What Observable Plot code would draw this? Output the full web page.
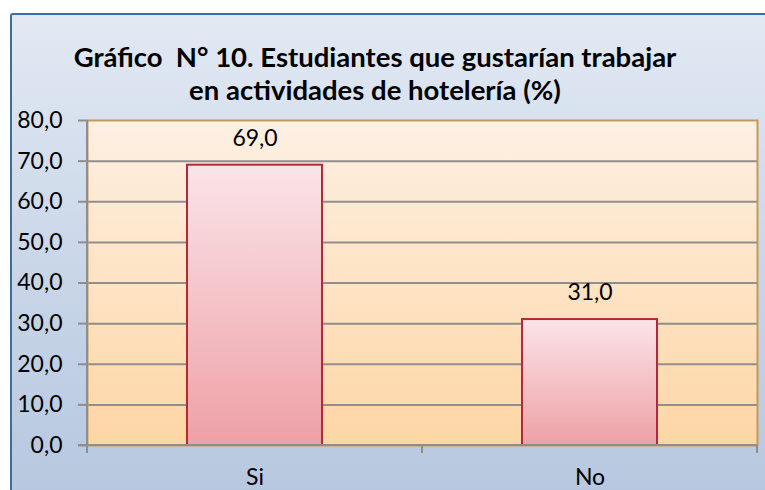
<!DOCTYPE html>
<html>
<head>
<meta charset="utf-8">
<script src="https://cdn.jsdelivr.net/npm/d3@7"></script>
<script src="https://cdn.jsdelivr.net/npm/@observablehq/plot@0.6"></script>
<style>
  html, body { margin: 0; padding: 0; background: #ffffff; }
  #wrap { position: relative; width: 765px; height: 490px; overflow: hidden; }
  #panel {
    position: absolute; left: 10px; top: 13px; width: 800px; height: 520px;
    border: 2px solid #3e6f98; border-radius: 3px;
    background: linear-gradient(to bottom, #e2e9f3 0%, #c9d6e8 50%, #b3c5de 100%);
    box-sizing: border-box;
  }
  #title {
    position: absolute; left: 0; top: 40px; width: 750px; text-align: center;
    font-family: Lato, "Open Sans", sans-serif; font-weight: bold; font-size: 27.5px;
    line-height: 33px; color: #000; white-space: nowrap;
  }
  #chart { position: absolute; left: 0; top: 0; }
  #defs { position: absolute; width: 0; height: 0; }
</style>
</head>
<body>
<svg id="defs" width="0" height="0">
  <defs>
    <linearGradient id="plotBg" x1="0" y1="0" x2="0" y2="1">
      <stop offset="0%" stop-color="#fdf0e3"/>
      <stop offset="100%" stop-color="#fed6a5"/>
    </linearGradient>
    <linearGradient id="barGrad" x1="0" y1="0" x2="0" y2="1">
      <stop offset="0%" stop-color="#fae4e8"/>
      <stop offset="100%" stop-color="#eea0a6"/>
    </linearGradient>
  </defs>
</svg>
<div id="wrap">
  <div id="panel"></div>
  <div id="title">Gráfico&nbsp; N° 10. Estudiantes que gustarían trabajar<br>en actividades de hotelería (%)</div>
  <div id="chart"></div>
</div>
<script>
const categories = ["Si", "No"];
const values = [69.0, 31.0];
const yTicks = [0, 10, 20, 30, 40, 50, 60, 70, 80];

const data = categories.map((c, i) => ({cat: c, value: values[i]}));
const fmt = v => d3.format(".1f")(v).replace(".", ",");
const FONT = "Lato, 'Open Sans', sans-serif";
const GRAY = "#8e8e8e";

// axis lines and category boundary ticks, computed from the scales
function axisLines(index, scales, values, dims) {
  const x = scales.x;
  const step = x.step();
  const g = d3.create("svg:g").attr("stroke", GRAY).attr("stroke-width", 2);
  const y0 = dims.height - dims.marginBottom;
  const yTop = dims.marginTop;
  const xs = [];
  categories.forEach((c, i) => {
    const center = x(c) + x.bandwidth() / 2;
    if (i === 0) xs.push(center - step / 2);
    xs.push(center + step / 2);
  });
  g.append("line").attr("x1", xs[0]).attr("x2", xs[0]).attr("y1", yTop).attr("y2", y0);
  g.append("line").attr("x1", xs[0] - 9).attr("x2", xs[xs.length - 1]).attr("y1", y0).attr("y2", y0);
  xs.forEach(px => {
    g.append("line").attr("x1", px).attr("x2", px).attr("y1", y0).attr("y2", y0 + 8);
  });
  return g.node();
}

const chart = Plot.plot({
  width: 765,
  height: 490,
  marginLeft: 87,
  marginRight: 8,
  marginTop: 120,
  marginBottom: 45,
  style: {background: "transparent", fontFamily: FONT, color: "#000", overflow: "visible"},
  x: {domain: categories, paddingInner: 0.597, paddingOuter: 0.2985, label: null},
  y: {domain: [0, 80], label: null},
  marks: [
    Plot.frame({fill: "url(#plotBg)", stroke: null}),
    Plot.ruleY(yTicks.filter(t => t > 0 && t < 80), {stroke: GRAY, strokeWidth: 2}),
    Plot.frame({stroke: "#c49a5c", strokeWidth: 2}),
    Plot.barY(data, {x: "cat", y: "value", fill: "url(#barGrad)", stroke: "#b4283b", strokeWidth: 2}),
    Plot.axisY({ticks: yTicks, tickFormat: fmt, tickSize: 9, tickPadding: 16, fontSize: 23, stroke: GRAY, strokeWidth: 2, label: null}),
    Plot.axisX({tickSize: 0, tickPadding: 23, fontSize: 23, label: null}),
    axisLines,
    Plot.text(data, {x: "cat", y: "value", text: d => fmt(d.value), dy: -27, fontSize: 23, fill: "#000"})
  ]
});
document.getElementById("chart").appendChild(chart);
</script>
</body>
</html>
